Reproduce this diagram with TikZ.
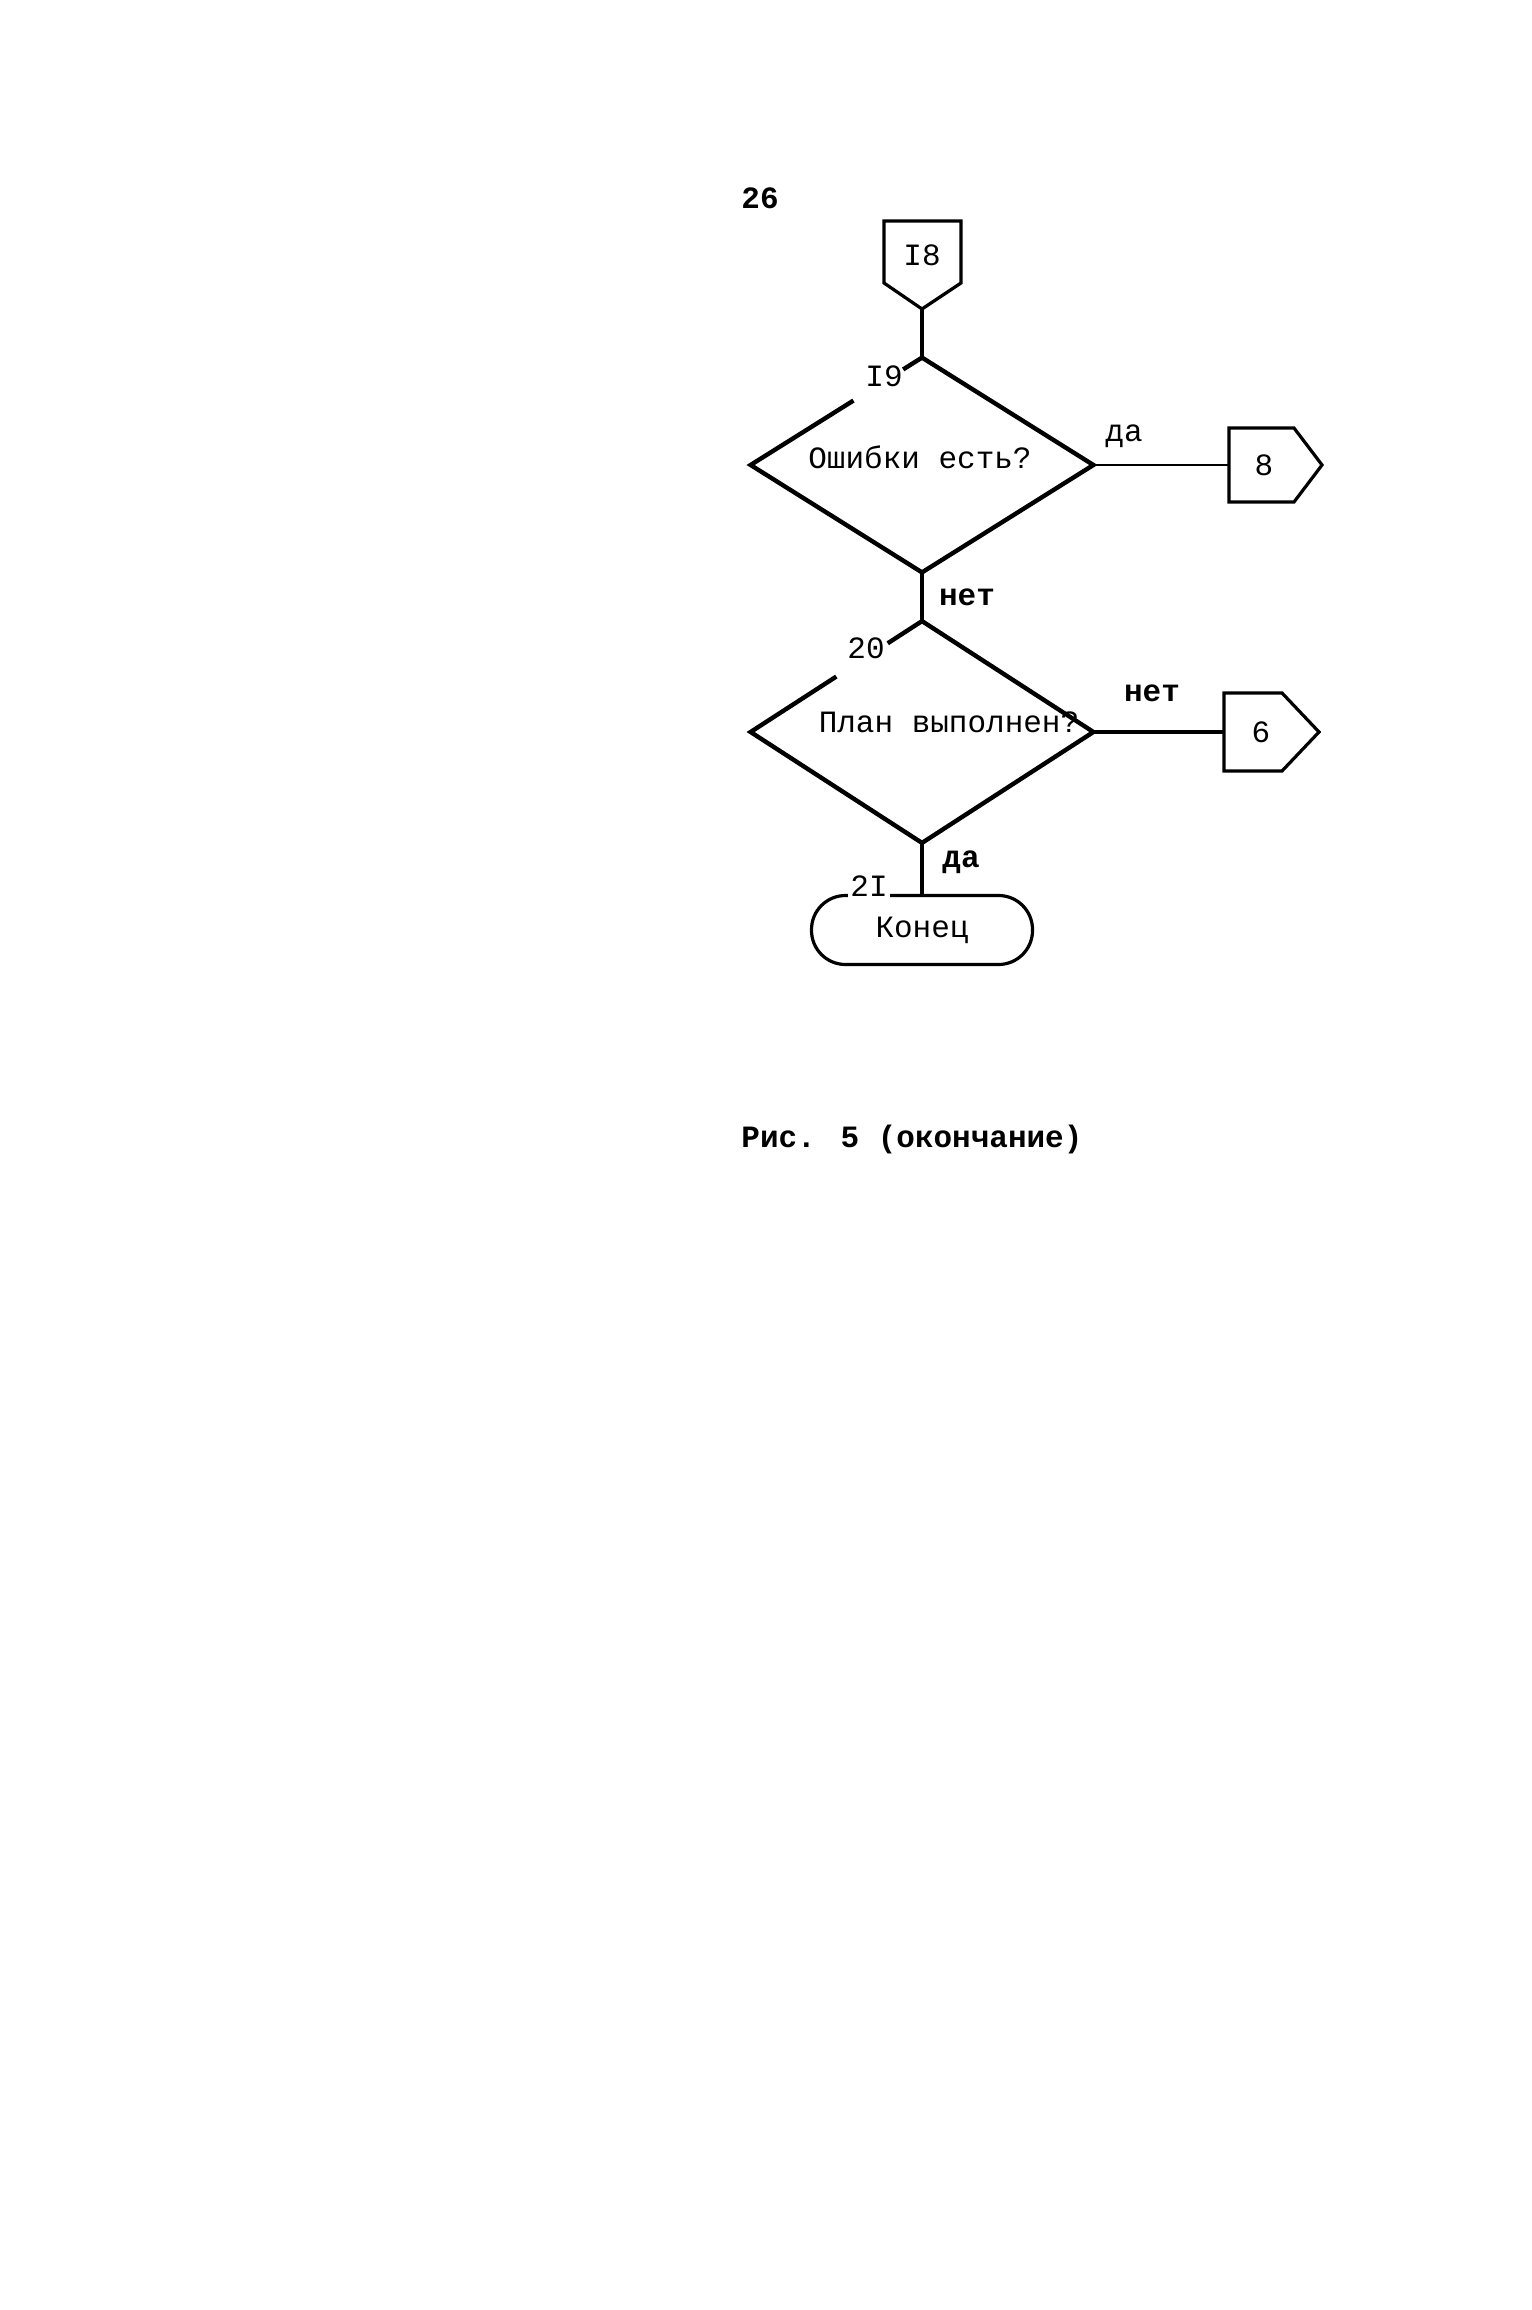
\documentclass[tikz,border=0pt]{standalone}
\usepackage{fontspec}
\setmainfont{Liberation Mono}
\usetikzlibrary{calc,shapes.geometric}
\begin{document}
\begin{tikzpicture}[x=0.5pt,y=-0.5pt,
  every node/.style={font=\fontsize{15.5}{18}\selectfont, inner sep=0pt},
  ln/.style={line width=2.2pt, line join=miter},
  bx/.style={line width=1.6pt, line join=miter},
  thinln/.style={line width=0.9pt},
  dec/.style={diamond, minimum width=171pt, minimum height=107pt, inner sep=0pt},
  lbl/.style={font=\fontsize{15.5}{18}\selectfont\bfseries},
  num/.style={font=\fontsize{15.5}{18}\selectfont, fill=white, inner sep=1pt}]
\fill[white] (0,0) rectangle (1531,2310);
\useasboundingbox (0,0) rectangle (1531,2310);

\node[lbl] (page) at (760,198) {26};

% off-page connector 18
\node (t18) at (922,255) {I8};
\coordinate (c18tip) at (922,309);
\draw[bx] (884,221) -- (961,221) -- (961,283) -- (c18tip) -- (884,283) -- cycle;

% decision 19
\node[dec] (d19) at (922,465) {};
\node (q19) at (920,457) {Ошибки есть?};
\draw[ln] (d19.north) -- ($(d19.north)!0.11!(d19.west)$);
\draw[ln] ($(d19.north)!0.40!(d19.west)$) -- (d19.west) -- (d19.south) -- (d19.east) -- (d19.north);
\node (n19) at (884,376) {I9};

% connector 8
\node (t8) at (1264,465) {8};
\coordinate (c8w) at (1229,465);
\draw[bx] (1229,428) -- (1294,428) -- (1322,465) -- (1294,502) -- (1229,502) -- cycle;
\draw[thinln] (d19.east) -- (c8w);
\node (l8) at (1124,436) {да};

% decision 20
\node[dec, minimum height=110.5pt] (d20) at (922,732) {};
\node (q20) at (949,722) {План выполнен?};
\draw[ln] (d20.north) -- ($(d20.north)!0.2!(d20.west)$);
\draw[ln] ($(d20.north)!0.5!(d20.west)$) -- (d20.west) -- (d20.south) -- (d20.east) -- (d20.north);
\node (n20) at (866,648) {20};

\draw[ln] (c18tip) -- (d19.north);
\draw[ln] (d19.south) -- (d20.north);
\node[lbl] (l19) at (967,597) {нет};

% connector 6
\node (t6) at (1261,732) {6};
\coordinate (c6w) at (1224,732);
\draw[bx] (1224,693) -- (1282,693) -- (1319,732) -- (1282,771) -- (1224,771) -- cycle;
\draw[ln] (d20.east) -- (c6w);
\node[lbl] (l6) at (1152,693) {нет};

% terminal
\node[draw, bx, rounded corners=17pt, minimum width=110.5pt, minimum height=34.5pt] (end) at (922,930) {Конец};
\draw[ln] (d20.south) -- (end.north);
\node[lbl] (l20) at (961,862) {да};
\node[num] (n21) at (869,886) {2I};

% caption
\node[lbl, anchor=west] (cap) at (741,1139) {Рис. 5 (окончание)};
\end{tikzpicture}
\end{document}
